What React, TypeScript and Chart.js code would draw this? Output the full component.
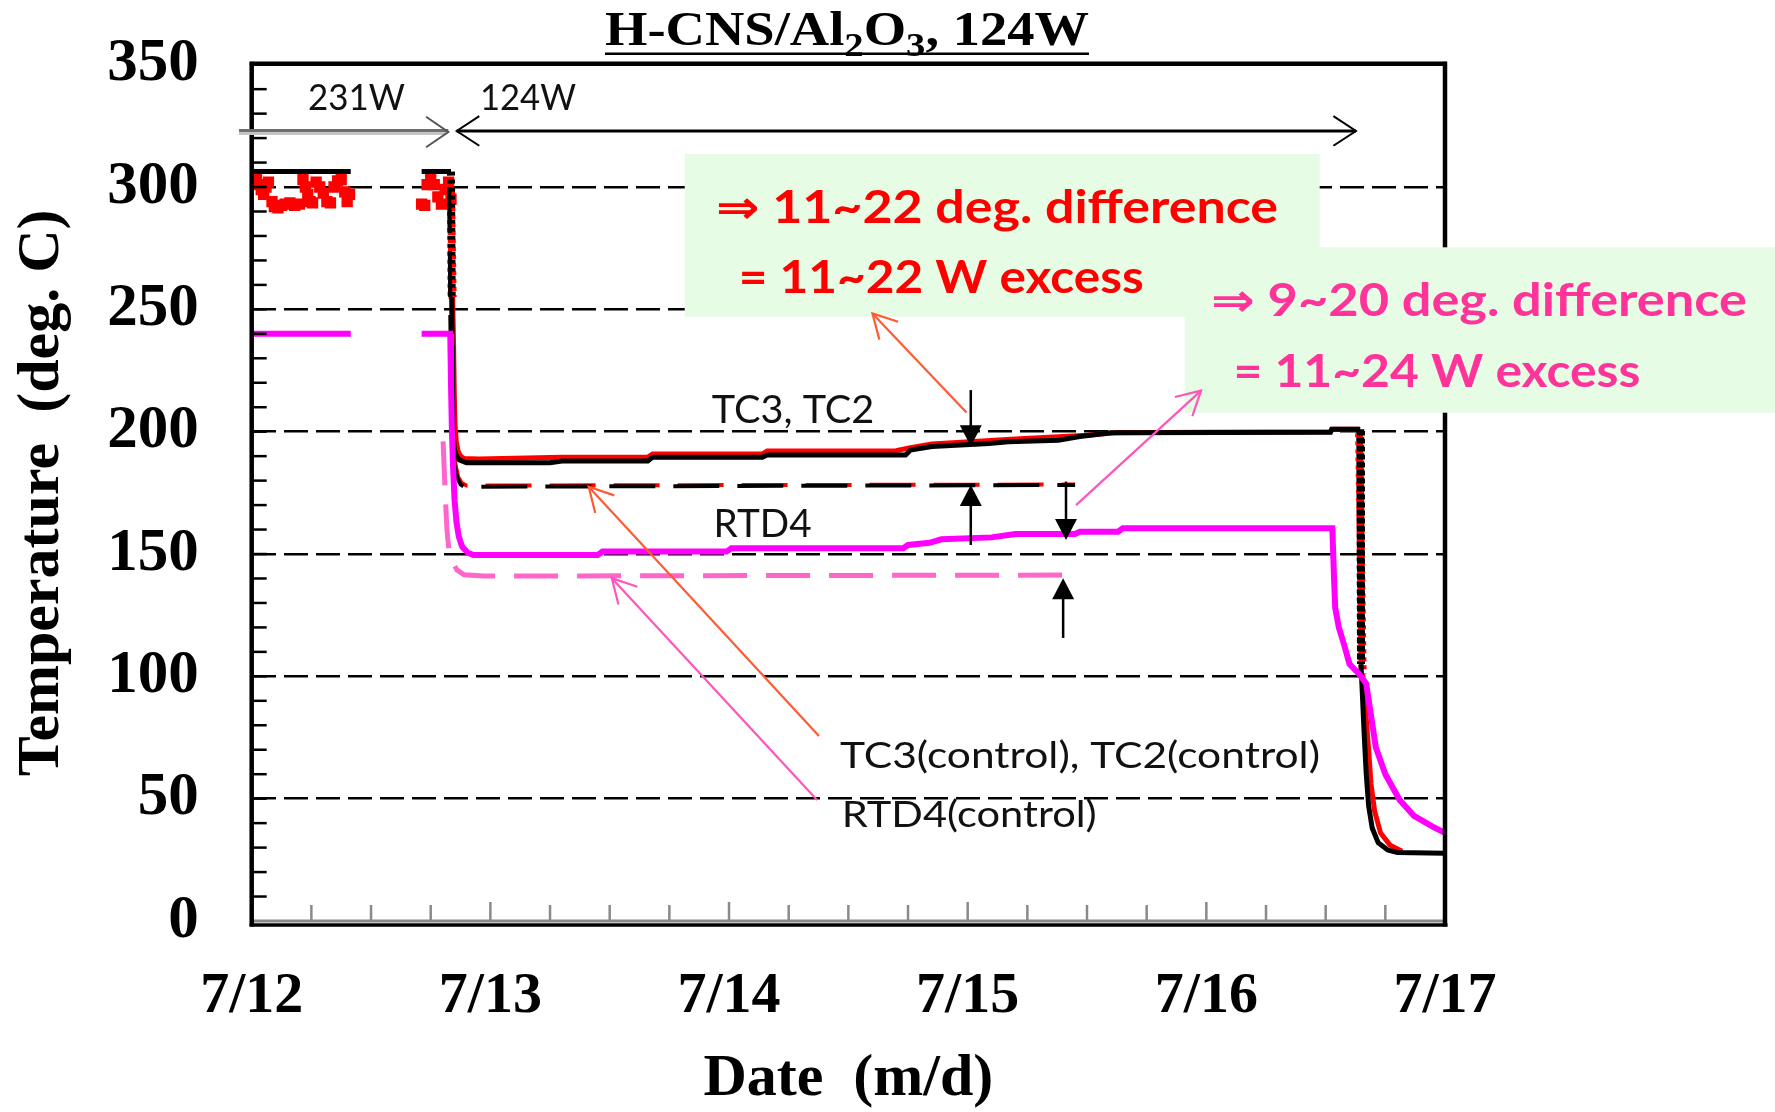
import React, { useEffect, useRef } from "react";
import { Chart, registerables } from "chart.js";

Chart.register(...registerables);

const CANVAS_W = 1775;
const CANVAS_H = 1112;

// x axis: days counted from 7/12 00:00
const dateLabels = ["7/12", "7/13", "7/14", "7/15", "7/16", "7/17"];
const dayRange: [number, number] = [0, 5];
const tempRange: [number, number] = [0, 350];
const tempStep = 50;

type Pt = [number, number | null];

// TC2 measured (black): 231 W hold, 124 W plateau, cool-down
const tc2Trace: Pt[] = [
  [0.005, 306.3], [0.415, 306.3], [0.56, null], [0.712, 306.3], [0.835, 306.3],
  [0.838, 255], [0.84, 235], [0.842, 212], [0.845, 198], [0.85, 192.5], [0.858, 190],
  [0.87, 188.5], [0.9, 187.3], [1.25, 187.3], [1.3, 188], [1.66, 188], [1.68, 189.6],
  [2.14, 189.6], [2.16, 190.5], [2.74, 190.5], [2.76, 192.5], [2.85, 193.9], [3.09, 195.2],
  [3.17, 195.9], [3.38, 196.5], [3.47, 198], [3.6, 199.6], [4.52, 199.8], [4.525, 201],
  [4.645, 201], [4.648, 105], [4.655, 90], [4.662, 75], [4.67, 60], [4.68, 47],
  [4.695, 38], [4.72, 32], [4.76, 29], [4.8, 28], [5.0, 27.7],
];

// TC3 measured (red) from the power change onward
const tc3Trace: Pt[] = [
  [0.835, 300], [0.842, 255], [0.846, 235], [0.849, 215], [0.852, 203], [0.857, 196],
  [0.865, 192], [0.875, 190], [0.89, 189], [0.95, 188.8], [1.3, 189.6], [1.66, 189.6],
  [1.68, 190.9], [2.14, 190.9], [2.16, 192.1], [2.7, 192.2], [2.76, 193.5], [2.85, 195],
  [2.99, 195.8], [3.2, 197], [3.5, 198.5], [3.62, 199.6], [4.0, 199.8], [4.52, 200],
  [4.53, 201], [4.64, 201], [4.655, 101], [4.668, 85], [4.68, 70], [4.69, 56],
  [4.705, 45], [4.73, 36], [4.77, 31], [4.82, 28.5],
];

// TC3 readings during the 231 W hold (scattered)
const tc3Readings231W: Pt[] = [
  [0.01, 302], [0.02, 303], [0.03, 301], [0.04, 299], [0.05, 297], [0.06, 300],
  [0.07, 302], [0.085, 294], [0.095, 292], [0.11, 291.5], [0.125, 292.5], [0.14, 293],
  [0.16, 293.5], [0.18, 292.5], [0.2, 293], [0.215, 303], [0.225, 300], [0.235, 297],
  [0.245, 294], [0.255, 293.5], [0.27, 302], [0.285, 300], [0.3, 297.5], [0.315, 294],
  [0.33, 293.5], [0.345, 300], [0.36, 302.5], [0.375, 303], [0.39, 298], [0.4, 294],
  [0.41, 297], [0.712, 293], [0.725, 292.5], [0.735, 301], [0.75, 303], [0.765, 301],
  [0.78, 296], [0.795, 293], [0.81, 299], [0.825, 302], [0.835, 295],
];

// RTD4 measured (magenta)
const rtd4Trace: Pt[] = [
  [0.005, 240], [0.415, 240], [0.56, null], [0.712, 240], [0.832, 240], [0.835, 220],
  [0.839, 200], [0.844, 185], [0.85, 172], [0.858, 163], [0.868, 157], [0.882, 153],
  [0.905, 150.5], [0.93, 149.6], [1.45, 149.6], [1.47, 151], [1.99, 151], [2.01, 152.4],
  [2.73, 152.4], [2.75, 153.7], [2.84, 154.6], [2.89, 156], [3.1, 156.8], [3.2, 158.2],
  [3.45, 158.2], [3.47, 159.1], [3.63, 159.1], [3.65, 160.5], [4.528, 160.5], [4.535, 140],
  [4.54, 128], [4.555, 120], [4.58, 112], [4.6, 105], [4.64, 101], [4.67, 97], [4.69, 84],
  [4.71, 71], [4.75, 60], [4.81, 49.5], [4.87, 43], [4.95, 38.5], [5.0, 36],
];

// control runs (dashed)
const tc2ControlTrace: Pt[] = [
  [0.828, 300], [0.832, 250], [0.836, 215], [0.842, 195], [0.85, 186], [0.862, 181],
  [0.875, 178.5], [0.89, 177.5], [3.45, 178.2],
];
const tc3ControlTrace: Pt[] = [
  [0.83, 298], [0.834, 250], [0.838, 215], [0.845, 196], [0.853, 187], [0.865, 181.5],
  [0.88, 179], [0.9, 178], [3.45, 178.4],
];
const rtd4ControlTrace: Pt[] = [
  [0.802, 196], [0.806, 186], [0.812, 172], [0.818, 160], [0.826, 152], [0.84, 147],
  [0.86, 143.5], [0.89, 141.5], [0.97, 141], [3.453, 141.4],
];

const SERIF = "'Liberation Serif', 'Times New Roman', serif";
const SANS = "Lato, 'DejaVu Sans', sans-serif";

const toXY = (t: Pt[]) => t.map(([x, y]) => ({ x, y }));
const steep = (c: any) =>
  c.p0.parsed.y != null && c.p1.parsed.y != null && Math.abs(c.p0.parsed.y - c.p1.parsed.y) > 40;

function fitText(
  ctx: CanvasRenderingContext2D, text: string, left: number, baseline: number,
  font: string, color: string, width: number
) {
  ctx.save();
  ctx.font = font;
  const w = ctx.measureText(text).width;
  ctx.translate(left, baseline);
  ctx.scale(width / w, 1);
  ctx.fillStyle = color;
  ctx.textAlign = "left";
  ctx.textBaseline = "alphabetic";
  ctx.fillText(text, 0, 0);
  ctx.restore();
}

function seg(ctx: CanvasRenderingContext2D, x1: number, y1: number, x2: number, y2: number) {
  ctx.beginPath();
  ctx.moveTo(x1, y1);
  ctx.lineTo(x2, y2);
  ctx.stroke();
}

function openHead(ctx: CanvasRenderingContext2D, tx: number, ty: number, fx: number, fy: number, len: number, ang: number) {
  const a = Math.atan2(fy - ty, fx - tx);
  ctx.beginPath();
  ctx.moveTo(tx + len * Math.cos(a - ang), ty + len * Math.sin(a - ang));
  ctx.lineTo(tx, ty);
  ctx.lineTo(tx + len * Math.cos(a + ang), ty + len * Math.sin(a + ang));
  ctx.stroke();
}

const overlay = {
  id: "overlay",
  afterDraw(chart: any) {
    const { ctx, chartArea: a } = chart;
    const xs = chart.scales.x;
    const ys = chart.scales.y;
    const px = (d: number) => xs.getPixelForValue(d);
    const py = (v: number) => ys.getPixelForValue(v);
    ctx.save();
    ctx.lineCap = "butt";

    // minor ticks on the temperature axis
    ctx.strokeStyle = "#000";
    ctx.lineWidth = 2.5;
    for (let v = 10; v < tempRange[1]; v += 10) {
      const y = py(v);
      seg(ctx, a.left, y, a.left + 15, y);
    }
    // 6-hour ticks on the date axis
    ctx.strokeStyle = "#8a8a8a";
    for (let i = 1; i <= 20; i++) {
      const x = px(i * 0.25);
      seg(ctx, x, a.bottom, x, a.bottom - (i % 4 === 0 ? 19 : 16));
    }
    // axis line + frame
    ctx.lineWidth = 3;
    seg(ctx, a.left, a.bottom, a.right, a.bottom);
    ctx.strokeStyle = "#000";
    ctx.lineWidth = 3.5;
    seg(ctx, a.left - 2, a.bottom + 4, a.right + 2.5, a.bottom + 4);
    ctx.lineWidth = 4.5;
    seg(ctx, a.left, a.top - 3, a.left, a.bottom + 5.5);
    seg(ctx, a.left - 2, a.top - 1, a.right + 2, a.top - 1);
    seg(ctx, a.right, a.top - 3, a.right, a.bottom + 5.5);

    // power periods: 231 W / 124 W
    const yPow = py(322.5);
    ctx.lineWidth = 3;
    ctx.strokeStyle = "#6e6e6e";
    seg(ctx, px(-0.053), yPow - 1.5, px(0.824), yPow - 1.5);
    ctx.strokeStyle = "#c4c4c4";
    seg(ctx, px(-0.053), yPow + 1.5, px(0.818), yPow + 1.5);
    ctx.strokeStyle = "#555";
    ctx.lineWidth = 2;
    openHead(ctx, px(0.824), yPow, px(0), yPow, 27, 0.6);
    ctx.strokeStyle = "#000";
    ctx.lineWidth = 3;
    seg(ctx, px(0.859), yPow - 1, px(4.627), yPow - 1);
    ctx.lineWidth = 2;
    openHead(ctx, px(0.859), yPow - 1, px(2), yPow - 1, 27, 0.58);
    openHead(ctx, px(4.627), yPow - 1, px(2), yPow - 1, 27, 0.58);
    fitText(ctx, "231W", 308, 110, `36px ${SANS}`, "#111", 97);
    fitText(ctx, "124W", 480, 110, `36px ${SANS}`, "#111", 96);

    // highlight boxes
    ctx.fillStyle = "rgb(230,252,228)";
    ctx.fillRect(684.7, 154, 635, 162.7);
    ctx.fillRect(1184.7, 247.3, CANVAS_W - 1184.7, 165.4);

    fitText(ctx, "\u21D2 11~22 deg. difference", 716, 222.7, `bold 46px ${SANS}`, "#ff0000", 562);
    fitText(ctx, "= 11~22 W excess", 738.7, 293.3, `bold 46px ${SANS}`, "#ff0000", 405);
    fitText(ctx, "\u21D2 9~20 deg. difference", 1211, 316, `bold 46px ${SANS}`, "#ff3399", 536);
    fitText(ctx, "= 11~24 W excess", 1233.4, 386.7, `bold 46px ${SANS}`, "#ff3399", 407);

    // series labels
    fitText(ctx, "TC3, TC2", 711.8, 423.3, `38px ${SANS}`, "#111", 162.5);
    fitText(ctx, "RTD4", 713.6, 536.7, `38px ${SANS}`, "#111", 98);
    fitText(ctx, "TC3(control), TC2(control)", 840, 768.3, `37px ${SANS}`, "#111", 480);
    fitText(ctx, "RTD4(control)", 841.7, 826.7, `37px ${SANS}`, "#111", 255);

    // pointer arrows
    const pointer = (d0: number, v0: number, d1: number, v1: number, color: string) => {
      ctx.strokeStyle = color;
      ctx.lineWidth = 2.2;
      const x0 = px(d0), y0 = py(v0), x1 = px(d1), y1 = py(v1);
      seg(ctx, x0, y0, x1, y1);
      openHead(ctx, x1, y1, x0, y0, 27, 0.5);
    };
    pointer(2.377, 75.6, 1.412, 177.5, "#ff5a32");
    pointer(2.995, 207.8, 2.601, 248.3, "#ff5a32");
    pointer(2.369, 49.5, 1.509, 140.1, "#ff55bb");
    pointer(3.454, 170.0, 3.978, 216.8, "#ff55bb");

    // gap arrows (filled heads)
    const gap = (d: number, vTail: number, vTip: number) => {
      const x = px(d), yT = py(vTail), yH = py(vTip);
      const dir = yH > yT ? 1 : -1;
      ctx.strokeStyle = "#000";
      ctx.fillStyle = "#000";
      ctx.lineWidth = 2.5;
      seg(ctx, x, yT, x, yH - dir * 18);
      ctx.beginPath();
      ctx.moveTo(x, yH);
      ctx.lineTo(x - 11, yH - dir * 21);
      ctx.lineTo(x + 11, yH - dir * 21);
      ctx.closePath();
      ctx.fill();
    };
    gap(3.013, 217, 194);
    gap(3.013, 153.7, 178.2);
    gap(3.412, 179.6, 155.7);
    gap(3.4, 115.7, 140.1);

    // title with subscripts
    const parts: [string, boolean][] = [["H-CNS/Al", false], ["2", true], ["O", false], ["3", true], [", 124W", false]];
    const mainFont = `bold 48px ${SERIF}`;
    const subFont = `bold 34px ${SERIF}`;
    let total = 0;
    for (const [t, sub] of parts) {
      ctx.font = sub ? subFont : mainFont;
      total += ctx.measureText(t).width;
    }
    const tLeft = 605, tRight = 1089, tBase = 45;
    const k = (tRight - tLeft) / total;
    ctx.save();
    ctx.translate(tLeft, tBase);
    ctx.scale(k, 1);
    ctx.fillStyle = "#000";
    ctx.textBaseline = "alphabetic";
    let cx = 0;
    for (const [t, sub] of parts) {
      ctx.font = sub ? subFont : mainFont;
      ctx.fillText(t, cx, sub ? 11 : 0);
      cx += ctx.measureText(t).width;
    }
    ctx.restore();
    ctx.strokeStyle = "#000";
    ctx.lineWidth = 2.5;
    seg(ctx, tLeft, 53.8, tRight, 53.8);

    ctx.restore();
  },
};

export default function App() {
  const ref = useRef<HTMLCanvasElement>(null);

  useEffect(() => {
    const canvas = ref.current;
    if (!canvas) return;
    const base = { pointRadius: 0, tension: 0, fill: false, spanGaps: false, borderCapStyle: "butt" };
    const chart = new Chart(canvas, {
      type: "line",
      data: {
        datasets: [
          { ...base, label: "RTD4", data: toXY(rtd4Trace), borderColor: "#ff00ff", borderWidth: 6 },
          {
            ...base, label: "RTD4(control)", data: toXY(rtd4ControlTrace), borderColor: "#ff66cc",
            borderWidth: 5, borderDash: [44, 19],
          },
          {
            ...base, label: "TC2", data: toXY(tc2Trace), borderColor: "#000", borderWidth: 5,
            segment: {
              borderDash: (c: any) => (steep(c) ? [4, 4] : undefined),
              borderWidth: (c: any) => (steep(c) ? 8 : undefined),
            },
          },
          {
            ...base, label: "TC2(control)", data: toXY(tc2ControlTrace), borderColor: "#000",
            borderWidth: 4, borderDash: [46, 18],
          },
          {
            ...base, label: "TC3", data: toXY(tc3Trace), borderColor: "#ff0000", borderWidth: 5,
            segment: {
              borderDash: (c: any) => (steep(c) ? [4, 4] : undefined),
              borderDashOffset: (c: any) => (steep(c) ? 4 : undefined),
              borderWidth: (c: any) => (steep(c) ? 8 : undefined),
            },
          },
          {
            ...base, label: "TC3(control)", data: toXY(tc3ControlTrace), borderColor: "#ff0000",
            borderWidth: 4, borderDash: [46, 18], borderDashOffset: 3,
          },
          {
            label: "TC3 (231W)", data: toXY(tc3Readings231W), showLine: false, pointStyle: "rect",
            pointRadius: 8, pointBorderWidth: 0, pointBackgroundColor: "#ff0000", borderColor: "#ff0000",
          },
        ] as any,
      },
      options: {
        animation: false,
        responsive: false,
        devicePixelRatio: 1,
        events: [],
        layout: { padding: { left: 0, top: 64.7, right: 330, bottom: 0 } },
        plugins: { legend: { display: false }, tooltip: { enabled: false }, title: { display: false } },
        scales: {
          x: {
            type: "linear",
            min: dayRange[0],
            max: dayRange[1],
            afterFit: (s: any) => {
              s.height = 191;
              s.paddingLeft = 0;
              s.paddingRight = 0;
            },
            ticks: {
              stepSize: 1,
              autoSkip: false,
              maxRotation: 0,
              padding: 33.5,
              color: "#000",
              font: { family: SERIF, size: 58, weight: "bold" },
              callback: (v: any) => dateLabels[Math.round(Number(v))] ?? "",
            },
            grid: { display: false },
            border: { display: false },
            title: {
              display: true,
              text: "Date  (m/d)",
              color: "#000",
              font: { family: SERIF, size: 60, weight: "bold", lineHeight: 1 },
              padding: { top: 0, bottom: 3 },
            },
          },
          y: {
            min: tempRange[0],
            max: tempRange[1],
            afterFit: (s: any) => {
              s.width = 251.7;
              s.paddingTop = 0;
              s.paddingBottom = 0;
            },
            ticks: {
              stepSize: tempStep,
              autoSkip: false,
              padding: 53,
              color: "#000",
              font: { family: SERIF, size: 61, weight: "bold" },
            },
            grid: {
              drawTicks: false,
              lineWidth: 2.5,
              color: (c: any) =>
                c.tick && (c.tick.value === tempRange[0] || c.tick.value === tempRange[1]) ? "rgba(0,0,0,0)" : "#000",
            },
            border: { display: false, dash: [24, 8] },
            title: {
              display: true,
              text: "Temperature  (deg. C)",
              color: "#000",
              font: { family: SERIF, size: 60, weight: "bold", lineHeight: 1 },
              padding: { top: 12, bottom: 0 },
            },
          },
        },
      } as any,
      plugins: [overlay],
    });
    return () => chart.destroy();
  }, []);

  return (
    <div style={{ position: "absolute", left: 0, top: 0, width: CANVAS_W, height: CANVAS_H, background: "#fff" }}>
      <canvas ref={ref} width={CANVAS_W} height={CANVAS_H} style={{ display: "block", width: CANVAS_W, height: CANVAS_H }} />
    </div>
  );
}
